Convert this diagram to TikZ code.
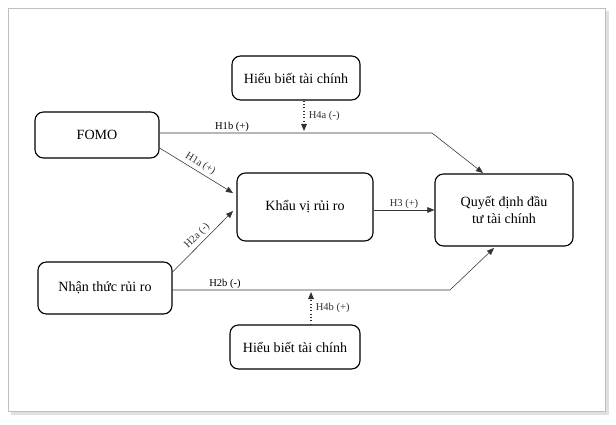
\documentclass[tikz,border=0pt]{standalone}
\usepackage{fontspec}
\setmainfont{Liberation Serif}
\usetikzlibrary{arrows.meta}
\begin{document}
\begin{tikzpicture}[x=0.025cm,y=-0.025cm]
    \tikzset{line/.style={draw,thin,black!80}}
    \tikzset{arrow/.style={line,-{Triangle[length=5pt,width=4pt]}}}
    \tikzset{dotarrow/.style={arrow,dotted,thick}}
    \tikzset{box/.style={draw,thick,rounded corners=6pt,align=center,font=\fontsize{10}{12}\selectfont}}
    \tikzset{lbl/.style={font=\fontsize{7.5}{9}\selectfont,inner sep=1pt}}

    \useasboundingbox (0,0) rectangle (616,425);
    \fill[black!12] (11,11) rectangle (609,415);
    \filldraw[draw=black!25, fill=white] (8,8) rectangle (605,411);

    \node[box,minimum width=3.1cm,minimum height=1.15cm] (fomo) at (97,135) {FOMO};
    \node[box,minimum width=3.2cm,minimum height=1.1cm] (hb1) at (296,78) {Hiểu biết tài chính};
    \node[box,minimum width=3.4cm,minimum height=1.7cm] (kv) at (305,207) {Khẩu vị rủi ro};
    \node[box,minimum width=3.45cm,minimum height=1.8cm] (qd) at (504,210) {Quyết định đầu\\tư tài chính};
    \node[box,minimum width=3.35cm,minimum height=1.3cm] (nt) at (105,288) {Nhận thức rủi ro};
    \node[box,minimum width=3.25cm,minimum height=1.1cm] (hb2) at (295,347) {Hiểu biết tài chính};

    \coordinate (b1) at (432,133);
    \coordinate (b2) at (450,290);
    \coordinate (t1) at (304,131);
    \coordinate (t2) at (311,292);

    \draw[arrow] (fomo.east |- 0,133) -- (b1) -- (483,173);
    \node[lbl] at (232,127) {H1b (+)};
    \draw[arrow] (fomo.east |- 0,148) -- (233,193) node[lbl,midway,above=1pt,sloped] {H1a (+)};
    \draw[arrow] (nt.east |- 0,272) -- (233,211) node[lbl,midway,above=1pt,sloped] {H2a (-)};
    \draw[arrow] (nt.east |- 0,290) -- (b2) -- (494,248);
    \node[lbl] at (225,284) {H2b (-)};
    \draw[arrow] (kv.east |- qd.west) -- (qd.west) node[lbl,midway,above] {H3 (+)};
    \draw[dotarrow] (hb1.south -| t1) -- (t1) node[lbl,midway,right=2pt] {H4a (-)};
    \draw[dotarrow] (hb2.north -| t2) -- (t2) node[lbl,midway,right=2pt] {H4b (+)};
\end{tikzpicture}
\end{document}
